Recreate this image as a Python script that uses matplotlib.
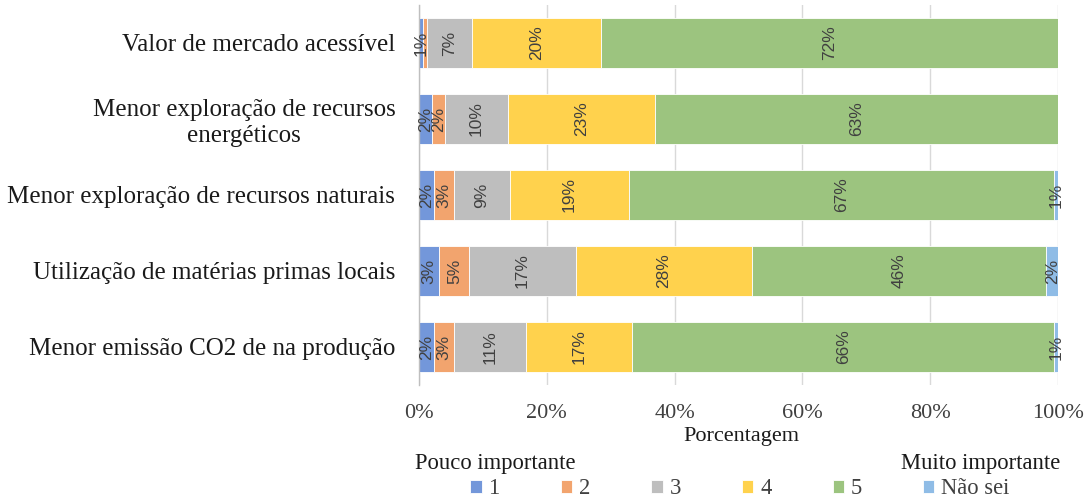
import matplotlib
matplotlib.use("Agg")
import matplotlib.pyplot as plt
import numpy as np

# Survey items (top to bottom)
categories = [
    "Valor de mercado acessível",
    "Menor exploração de recursos\nenergéticos",
    "Menor exploração de recursos naturais",
    "Utilização de matérias primas locais",
    "Menor emissão CO2 de na produção",
]

# Share of answers (%) per importance level, one list per series
series_names = ["1", "2", "3", "4", "5", "Não sei"]
s1 = [0.6, 2.0, 2.4, 3.2, 2.4]
s2 = [0.6, 2.0, 3.1, 4.7, 3.1]
s3 = [7.1, 10.0, 8.7, 16.6, 11.3]
s4 = [20.2, 23.0, 18.6, 27.6, 16.6]
s5 = [71.5, 63.0, 66.6, 46.1, 66.0]
s6 = [0.0, 0.0, 0.6, 1.8, 0.6]

colors = ["#7397DA", "#F2A46E", "#BEBEBE", "#FFD24D", "#9CC47F", "#8FBCE6"]

xticks = [0, 20, 40, 60, 80, 100]
xtick_labels = ["0%", "20%", "40%", "60%", "80%", "100%"]

serif = ["Liberation Serif", "DejaVu Serif"]
dark = "#1a1a1a"

fig = plt.figure(figsize=(10.86, 4.99), dpi=100)
ax = fig.add_axes([0.3858, 0.2285, 0.5884, 0.7615])

y = np.arange(len(categories))
left = np.zeros(len(categories))
last_label_x = np.full(len(categories), -10.0)
handles = []
for name, vals, col in zip(series_names, [s1, s2, s3, s4, s5, s6], colors):
    vals = np.array(vals, dtype=float)
    bars = ax.barh(y, vals, left=left, height=0.66, color=col,
                   edgecolor="white", linewidth=0.6, label=name, zorder=2)
    handles.append(bars)
    for i, (yi, l, v) in enumerate(zip(y, left, vals)):
        cx = l + v / 2
        # skip a label that would sit right on top of the previous one
        if v > 0 and cx - last_label_x[i] > 1.0:
            ax.text(cx, yi, f"{v:.0f}%", rotation=90,
                    ha="center", va="center", fontsize=12.5,
                    color="#404040", family=["Liberation Sans"], zorder=3)
            last_label_x[i] = cx
    left += vals

ax.set_xlim(0, 100)
ax.set_ylim(len(categories) - 0.5, -0.5)
ax.set_yticks(y)
ax.set_yticklabels(categories, family=serif, fontsize=18, color=dark)
for lbl in ax.get_yticklabels():
    lbl.set_multialignment("center")
ax.tick_params(axis="y", length=0, pad=17)
ax.set_xticks(xticks)
ax.set_xticklabels(xtick_labels, family=serif, fontsize=16, color="#404040")
ax.tick_params(axis="x", length=0, pad=14)

ax.grid(axis="x", color="#D9D9D9", linewidth=1, zorder=0)
for side in ["top", "right", "bottom"]:
    ax.spines[side].set_visible(False)
ax.spines["left"].set_color("#BFBFBF")
ax.spines["left"].set_linewidth(1)

fig.text(741 / 1086, 1 - 437 / 499, "Porcentagem", ha="center", va="center",
         family=serif, fontsize=16, color=dark)
fig.text(415 / 1086, 1 - 463 / 499, "Pouco importante", ha="left", va="center",
         family=serif, fontsize=16.3, color=dark)
fig.text(1060 / 1086, 1 - 463 / 499, "Muito importante", ha="right", va="center",
         family=serif, fontsize=16.3, color=dark)

fig.legend(handles=handles, labels=series_names, loc="center",
           bbox_to_anchor=(740 / 1086, 1 - 489 / 499), ncol=6, frameon=False,
           handlelength=0.5, handleheight=0.5, handletextpad=0.3,
           columnspacing=2.7, prop={"family": serif, "size": 16.3},
           labelcolor="#404040")

fig.savefig("out.png", dpi=100)
